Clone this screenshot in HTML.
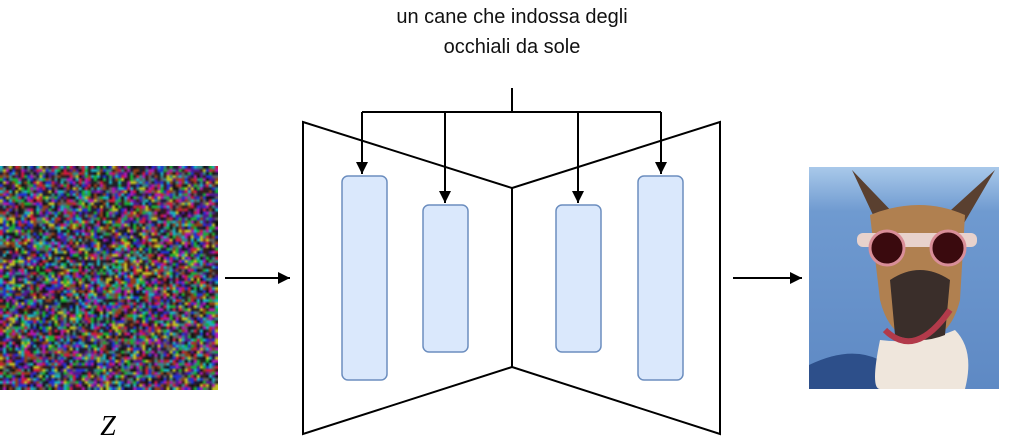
<!DOCTYPE html>
<html><head><meta charset="utf-8"><style>
html,body{margin:0;padding:0;background:#fff;width:1030px;height:445px;overflow:hidden;position:relative;font-family:"Liberation Sans",sans-serif}
.t{position:absolute;left:312px;width:400px;text-align:center;font-size:20px;color:#111}
#noise{position:absolute;left:0;top:166px;width:218px;height:224px;background:#5a4a60}
</style></head><body>
<div class="t" style="top:6px">un cane che indossa degli</div>
<div class="t" style="top:36px">occhiali da sole</div>
<canvas id="noise" width="72" height="74"></canvas>
<svg width="1030" height="445" style="position:absolute;left:0;top:0">
<defs><marker id="a" markerWidth="12" markerHeight="12" refX="12" refY="6" orient="auto" markerUnits="userSpaceOnUse"><path d="M0,0 L12,6 L0,12 z" fill="#000"/></marker>
<linearGradient id="sky" x1="0" y1="0" x2="0" y2="1"><stop offset="0" stop-color="#a9c9ea"/><stop offset="0.2" stop-color="#6f9ad0"/><stop offset="1" stop-color="#5e89c4"/></linearGradient></defs>
<g fill="none" stroke="#000" stroke-width="2">
<path d="M303,122 L512,188 L512,367 L303,434 Z"/>
<path d="M720,122 L512,188 L512,367 L720,434 Z"/>
<path d="M512,88 V112 M362,112 H661"/>
<path d="M362,112 V174" marker-end="url(#a)"/>
<path d="M445,112 V203" marker-end="url(#a)"/>
<path d="M578,112 V203" marker-end="url(#a)"/>
<path d="M661,112 V174" marker-end="url(#a)"/>
<path d="M225,278 H290" marker-end="url(#a)"/>
<path d="M733,278 H802" marker-end="url(#a)"/>
</g>
<g fill="#dae8fc" stroke="#6c8ebf" stroke-width="1.5">
<rect x="342" y="176" width="45" height="204" rx="6"/>
<rect x="423" y="205" width="45" height="147" rx="6"/>
<rect x="556" y="205" width="45" height="147" rx="6"/>
<rect x="638" y="176" width="45" height="204" rx="6"/>
</g>
<text x="108" y="435" font-family="Liberation Serif" font-style="italic" font-size="28" text-anchor="middle">Z</text>
<g>
<rect x="809" y="167" width="190" height="222" fill="url(#sky)"/>
<path d="M809,365 Q850,345 880,360 L880,389 L809,389Z" fill="#2d4f8a"/>
<path d="M852,170 L880,230 L900,220 Z" fill="#5a4030"/>
<path d="M995,170 L960,230 L940,220 Z" fill="#5a4030"/>
<path d="M870,215 Q920,195 965,215 L960,300 Q950,340 920,340 Q890,340 880,300 Z" fill="#b08050"/>
<path d="M880,340 Q870,389 880,389 L965,389 Q975,350 955,330 Q920,345 880,340Z" fill="#efe6dc"/>
<path d="M890,280 Q920,260 950,280 L945,335 Q920,345 895,335Z" fill="#3a2e2a"/>
<rect x="857" y="233" width="120" height="14" rx="6" fill="#e8d2cc"/>
<circle cx="887" cy="248" r="17" fill="#3a0a0e" stroke="#d98e98" stroke-width="3"/>
<circle cx="948" cy="248" r="17" fill="#3a0a0e" stroke="#d98e98" stroke-width="3"/>
<path d="M885,330 Q915,360 950,310" stroke="#b23a4a" stroke-width="6" fill="none"/>
</g>
</svg>
<script>
var c=document.getElementById('noise').getContext('2d');
var cols=['#d01840','#18b030','#2030d0','#c0c020','#18b0c0','#b018b0','#111111','#222222','#606060','#904018','#308888','#501890','#1a1a3a','#3a1a1a'];
for(var y=0;y<74;y++)for(var x=0;x<72;x++){c.fillStyle=cols[(Math.random()*cols.length)|0];c.fillRect(x,y,1,1);}
</script>
</body></html>
